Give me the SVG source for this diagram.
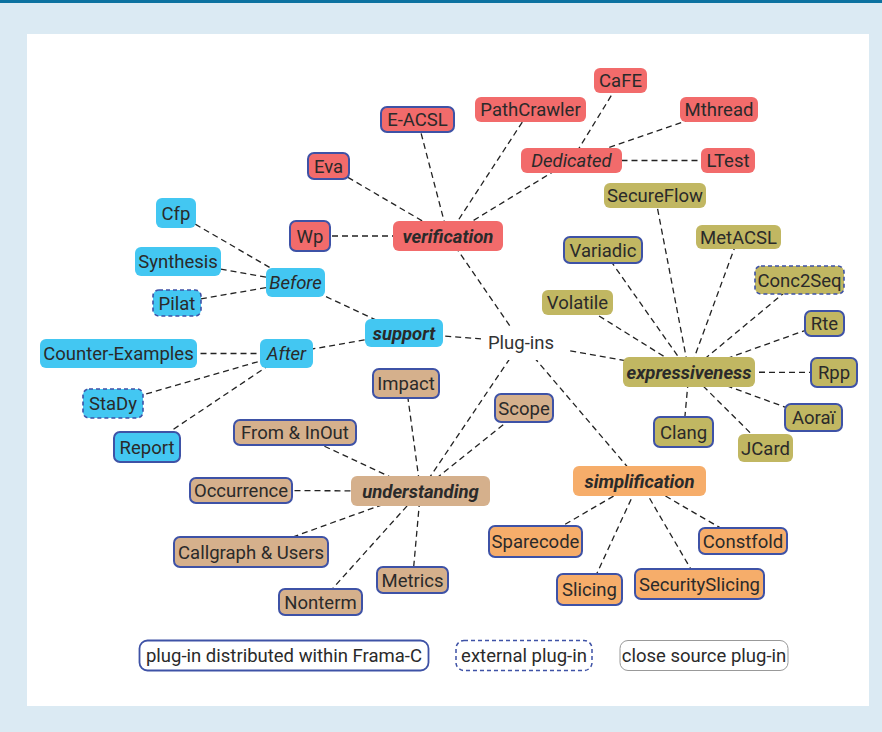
<svg xmlns="http://www.w3.org/2000/svg" width="882" height="732" viewBox="0 0 882 732">
<style>
text{font-family:Roboto,"Noto Sans",sans-serif;font-size:18.5px;fill:#2a2a2a;text-anchor:middle}
.cat{font-weight:700;font-style:italic}
.it{font-style:italic}
.e line{stroke:#222;stroke-width:1.3;stroke-dasharray:6 4;fill:none}
.red{fill:#f26b6b}
.blu{fill:#43c7f2}
.oli{fill:#c1b762}
.tan{fill:#d5b08c}
.ora{fill:#f6ad6a}
.in{stroke:#3e52a6;stroke-width:2}
.ex{stroke:#3e52a6;stroke-width:1.6;stroke-dasharray:4 3}
</style>
<rect x="0" y="0" width="882" height="732" fill="#dbeaf3"/>
<rect x="0" y="0" width="882" height="3" fill="#0b72a0"/>
<rect x="27" y="34" width="842" height="672" fill="#ffffff"/>
<g id="connectors" class="e">
<line x1="521" y1="342" x2="448" y2="236"/>
<line x1="521" y1="342" x2="404" y2="333"/>
<line x1="521" y1="342" x2="689" y2="372"/>
<line x1="521" y1="342" x2="420.5" y2="491"/>
<line x1="521" y1="342" x2="639.5" y2="481"/>
<line x1="448" y1="236" x2="310" y2="236"/>
<line x1="448" y1="236" x2="328.5" y2="166"/>
<line x1="448" y1="236" x2="417.5" y2="119.5"/>
<line x1="448" y1="236" x2="530.5" y2="109.5"/>
<line x1="448" y1="236" x2="571.5" y2="160.5"/>
<line x1="571.5" y1="160.5" x2="620.5" y2="80.5"/>
<line x1="571.5" y1="160.5" x2="719" y2="109.5"/>
<line x1="571.5" y1="160.5" x2="728" y2="160.5"/>
<line x1="404" y1="333" x2="295.5" y2="282.5"/>
<line x1="404" y1="333" x2="286.5" y2="353.5"/>
<line x1="295.5" y1="282.5" x2="176" y2="213"/>
<line x1="295.5" y1="282.5" x2="178" y2="261.5"/>
<line x1="295.5" y1="282.5" x2="177" y2="303"/>
<line x1="286.5" y1="353.5" x2="118.5" y2="353.5"/>
<line x1="286.5" y1="353.5" x2="113" y2="403.5"/>
<line x1="286.5" y1="353.5" x2="147" y2="447"/>
<line x1="689" y1="372" x2="655" y2="195.5"/>
<line x1="689" y1="372" x2="603" y2="250"/>
<line x1="689" y1="372" x2="738.5" y2="237"/>
<line x1="689" y1="372" x2="799.5" y2="280"/>
<line x1="689" y1="372" x2="824.5" y2="323.5"/>
<line x1="689" y1="372" x2="577.5" y2="302.5"/>
<line x1="689" y1="372" x2="834" y2="372.5"/>
<line x1="689" y1="372" x2="813.5" y2="417.5"/>
<line x1="689" y1="372" x2="683.5" y2="432"/>
<line x1="689" y1="372" x2="765.5" y2="448"/>
<line x1="420.5" y1="491" x2="406" y2="383.5"/>
<line x1="420.5" y1="491" x2="295" y2="432.5"/>
<line x1="420.5" y1="491" x2="241" y2="490.5"/>
<line x1="420.5" y1="491" x2="251" y2="552"/>
<line x1="420.5" y1="491" x2="320.5" y2="602"/>
<line x1="420.5" y1="491" x2="412.5" y2="580"/>
<line x1="420.5" y1="491" x2="524" y2="408"/>
<line x1="639.5" y1="481" x2="535.5" y2="541.5"/>
<line x1="639.5" y1="481" x2="589.5" y2="589.5"/>
<line x1="639.5" y1="481" x2="699.5" y2="584"/>
<line x1="639.5" y1="481" x2="743" y2="541"/>
</g>
<g id="plugins"><rect x="481" y="327" width="86" height="33" fill="#ffffff"/><text x="521" y="348.5" style="fill:#333">Plug-ins</text></g>
<g id="verification"><rect class="red" x="393" y="221" width="110" height="30" rx="6"/><text class="cat" x="448" y="242.5">verification</text></g>
<g id="eacsl"><rect class="red in" x="381" y="107" width="73" height="25" rx="6"/><text x="417.5" y="126">E-ACSL</text></g>
<g id="pathcrawler"><rect class="red" x="475" y="97" width="111" height="25" rx="6"/><text x="530.5" y="116">PathCrawler</text></g>
<g id="cafe"><rect class="red" x="594" y="68" width="53" height="25" rx="6"/><text x="620.5" y="87">CaFE</text></g>
<g id="mthread"><rect class="red" x="680" y="97" width="78" height="25" rx="6"/><text x="719" y="116">Mthread</text></g>
<g id="dedicated"><rect class="red" x="521" y="148" width="101" height="25" rx="6"/><text class="it" x="571.5" y="167">Dedicated</text></g>
<g id="ltest"><rect class="red" x="701" y="148" width="54" height="25" rx="6"/><text x="728" y="167">LTest</text></g>
<g id="eva"><rect class="red in" x="308" y="153" width="41" height="26" rx="6"/><text x="328.5" y="172.5">Eva</text></g>
<g id="wp"><rect class="red in" x="290" y="221" width="40" height="30" rx="6"/><text x="310" y="242.5">Wp</text></g>
<g id="support"><rect class="blu" x="365" y="319" width="78" height="28" rx="6"/><text class="cat" x="404" y="339.5">support</text></g>
<g id="cfp"><rect class="blu" x="156" y="198" width="40" height="30" rx="6"/><text x="176" y="219.5">Cfp</text></g>
<g id="synthesis"><rect class="blu" x="135" y="247" width="86" height="29" rx="6"/><text x="178" y="268">Synthesis</text></g>
<g id="pilat"><rect class="blu ex" x="153" y="290" width="48" height="26" rx="6"/><text x="177" y="309.5">Pilat</text></g>
<g id="before"><rect class="blu" x="266" y="268" width="59" height="29" rx="6"/><text class="it" x="295.5" y="289">Before</text></g>
<g id="counterexamples"><rect class="blu" x="40" y="339" width="157" height="29" rx="6"/><text x="118.5" y="360">Counter-Examples</text></g>
<g id="after"><rect class="blu" x="260" y="339" width="53" height="29" rx="6"/><text class="it" x="286.5" y="360">After</text></g>
<g id="stady"><rect class="blu ex" x="83" y="389" width="60" height="29" rx="6"/><text x="113" y="410">StaDy</text></g>
<g id="report"><rect class="blu in" x="114" y="432" width="66" height="30" rx="6"/><text x="147" y="453.5">Report</text></g>
<g id="expressiveness"><rect class="oli" x="623" y="357" width="132" height="30" rx="6"/><text class="cat" x="689" y="378.5">expressiveness</text></g>
<g id="secureflow"><rect class="oli" x="604" y="183" width="102" height="25" rx="6"/><text x="655" y="202">SecureFlow</text></g>
<g id="metacsl"><rect class="oli" x="696" y="225" width="85" height="24" rx="6"/><text x="738.5" y="243.5">MetACSL</text></g>
<g id="variadic"><rect class="oli in" x="564" y="237" width="78" height="26" rx="6"/><text x="603" y="256.5">Variadic</text></g>
<g id="conc2seq"><rect class="oli ex" x="755" y="266" width="89" height="28" rx="6"/><text x="799.5" y="286.5">Conc2Seq</text></g>
<g id="volatile"><rect class="oli" x="542" y="290" width="71" height="25" rx="6"/><text x="577.5" y="309">Volatile</text></g>
<g id="rte"><rect class="oli in" x="805" y="311" width="39" height="25" rx="6"/><text x="824.5" y="330">Rte</text></g>
<g id="rpp"><rect class="oli in" x="811" y="358" width="46" height="29" rx="6"/><text x="834" y="379">Rpp</text></g>
<g id="aorai"><rect class="oli in" x="785" y="404" width="57" height="27" rx="6"/><text x="813.5" y="424">Aoraï</text></g>
<g id="clang"><rect class="oli in" x="654" y="417" width="59" height="30" rx="6"/><text x="683.5" y="438.5">Clang</text></g>
<g id="jcard"><rect class="oli" x="738" y="434" width="55" height="28" rx="6"/><text x="765.5" y="454.5">JCard</text></g>
<g id="understanding"><rect class="tan" x="351" y="476" width="139" height="30" rx="6"/><text class="cat" x="420.5" y="497.5">understanding</text></g>
<g id="impact"><rect class="tan in" x="373" y="369" width="66" height="29" rx="6"/><text x="406" y="390">Impact</text></g>
<g id="scope"><rect class="tan in" x="495" y="394" width="58" height="28" rx="6"/><text x="524" y="414.5">Scope</text></g>
<g id="frominout"><rect class="tan in" x="234" y="420" width="122" height="25" rx="6"/><text x="295" y="439">From &amp; InOut</text></g>
<g id="occurrence"><rect class="tan in" x="190" y="478" width="102" height="25" rx="6"/><text x="241" y="497">Occurrence</text></g>
<g id="callgraph"><rect class="tan in" x="174" y="537" width="154" height="30" rx="6"/><text x="251" y="558.5">Callgraph &amp; Users</text></g>
<g id="metrics"><rect class="tan in" x="377" y="567" width="71" height="26" rx="6"/><text x="412.5" y="586.5">Metrics</text></g>
<g id="nonterm"><rect class="tan in" x="279" y="589" width="83" height="26" rx="6"/><text x="320.5" y="608.5">Nonterm</text></g>
<g id="simplification"><rect class="ora" x="573" y="466" width="133" height="30" rx="6"/><text class="cat" x="639.5" y="487.5">simplification</text></g>
<g id="sparecode"><rect class="ora in" x="489" y="526" width="93" height="31" rx="6"/><text x="535.5" y="548">Sparecode</text></g>
<g id="constfold"><rect class="ora in" x="699" y="528" width="88" height="26" rx="6"/><text x="743" y="547.5">Constfold</text></g>
<g id="slicing"><rect class="ora in" x="557" y="574" width="65" height="31" rx="6"/><text x="589.5" y="596">Slicing</text></g>
<g id="securityslicing"><rect class="ora in" x="635" y="569" width="129" height="30" rx="6"/><text x="699.5" y="590.5">SecuritySlicing</text></g>
<g id="legend">
<rect x="139.5" y="640.5" width="289" height="30" rx="8" fill="#fff" stroke="#3e52a6" stroke-width="1.8"/>
<text x="284" y="662">plug-in distributed within Frama-C</text>
<rect x="456" y="640.5" width="136" height="30" rx="8" fill="#fff" stroke="#3e52a6" stroke-width="1.5" stroke-dasharray="4 3"/>
<text x="524" y="662">external plug-in</text>
<rect x="620" y="640.5" width="168" height="30" rx="8" fill="#fff" stroke="#999" stroke-width="1"/>
<text x="704" y="662">close source plug-in</text>
</g>
</svg>
